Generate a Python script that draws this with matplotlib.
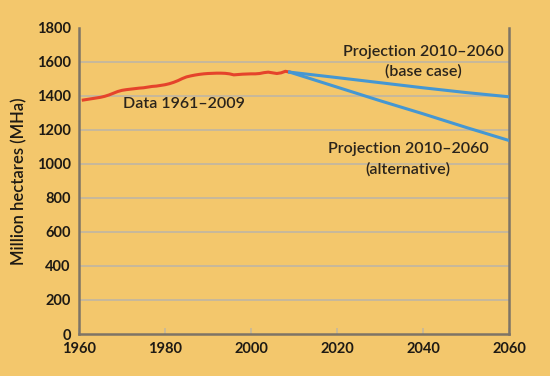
import matplotlib.pyplot as plt

years = list(range(1961, 2010))
area = [1376, 1380, 1384, 1388, 1392, 1398, 1406, 1416, 1426, 1433,
        1437, 1440, 1443, 1446, 1448, 1452, 1456, 1458, 1462, 1466,
        1472, 1480, 1490, 1502, 1512, 1518, 1523, 1527, 1530, 1532,
        1533, 1534, 1534, 1533, 1530, 1524, 1526, 1528, 1529, 1530,
        1530, 1532, 1537, 1540, 1536, 1532, 1536, 1545, 1540]

proj_years = [2009, 2020, 2030, 2040, 2050, 2060]
base_case = [1540, 1508, 1478, 1448, 1420, 1395]
alternative = [1540, 1452, 1372, 1295, 1215, 1138]

bg = '#f3c76c'
plt.rcParams['font.family'] = ['Lato', 'DejaVu Sans']

fig = plt.figure(figsize=(5.5, 3.76), dpi=100, facecolor=bg)
ax = fig.add_axes([0.1436, 0.1117, 0.782, 0.814])
ax.set_facecolor(bg)

for v in range(200, 1800, 200):
    ax.axhline(v, color='#c6b89c', lw=1.4, zorder=1)

ax.plot(years, area, color='#e5432b', lw=2.2, zorder=3)
ax.plot(proj_years, base_case, color='#4597d2', lw=2.2, zorder=3)
ax.plot(proj_years, alternative, color='#4597d2', lw=2.2, zorder=3)

ax.set_xlim(1960, 2060)
ax.set_ylim(0, 1800)
ax.set_xticks(range(1960, 2061, 20))
ax.set_yticks(range(0, 1801, 200))

for s in ['left', 'bottom', 'right']:
    ax.spines[s].set_color('#7d7466')
    ax.spines[s].set_linewidth(1.8)
ax.spines['top'].set_visible(False)

ax.tick_params(axis='x', direction='in', length=4, color='#c6b89c', width=1.2,
               labelsize=10.5, pad=6, labelcolor='#1e1a14')
ax.tick_params(axis='y', length=0, labelsize=10.5, pad=6, labelcolor='#1e1a14')
for lab in ax.get_xticklabels() + ax.get_yticklabels():
    lab.set_fontweight('bold')

ax.set_ylabel('Million hectares (MHa)', fontsize=12, color='#1e1a14', fontweight='semibold')
ax.yaxis.set_label_coords(-0.12, 0.5)

tc = '#2a241c'
kw = dict(fontsize=11.5, color=tc, ha='center', va='center', fontweight='semibold')
ax.text(1984.5, 1355, 'Data 1961\u20132009', **kw)
ax.text(2040, 1660, 'Projection 2010\u20132060', **kw)
ax.text(2040, 1545, '(base case)', **kw)
ax.text(2036.5, 1090, 'Projection 2010\u20132060', **kw)
ax.text(2036.5, 970, '(alternative)', **kw)

fig.savefig('out.png', dpi=100, facecolor=bg)
